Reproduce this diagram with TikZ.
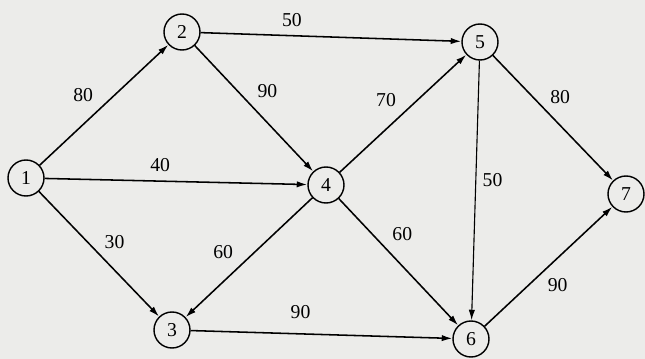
\documentclass[tikz,border=0pt]{standalone}
\usepackage{fontspec}
\setmainfont{Liberation Serif}
\usetikzlibrary{arrows.meta}

\definecolor{paper}{RGB}{236,236,234}

\begin{document}
\begin{tikzpicture}[
    >={Latex[length=7.5pt, width=4.5pt]},
    vertex/.style={circle, draw, line width=1pt, fill=paper,
                   minimum size=0.9cm, inner sep=0pt,
                   font=\fontsize{14}{16}\selectfont},
    arc/.style={->, line width=1.1pt},
    wlabel/.style={inner sep=1pt, font=\fontsize{14}{16}\selectfont}
  ]
  \fill[paper] (0,0) rectangle (16.125,8.975);
  \useasboundingbox (0,0) rectangle (16.125,8.975);

  % vertices
  \node[vertex] (v1) at (0.65, 4.525) {1};
  \node[vertex] (v2) at (4.55, 8.175) {2};
  \node[vertex] (v3) at (4.3, 0.725) {3};
  \node[vertex] (v4) at (8.15, 4.35) {4};
  \node[vertex] (v5) at (12.0, 7.925) {5};
  \node[vertex] (v6) at (11.775, 0.5) {6};
  \node[vertex] (v7) at (15.65, 4.125) {7};

  % weighted arcs
  \draw[arc] (v1) -- node[wlabel, pos=0.47, above left=3.5pt] {80} (v2);
  \draw[arc] (v1) -- node[wlabel, pos=0.44, above=5pt] {40} (v4);
  \draw[arc] (v1) -- node[wlabel, pos=0.5, above right=2.5pt] {30} (v3);
  \draw[arc] (v2) -- node[wlabel, pos=0.35, above=5pt] {50} (v5);
  \draw[arc] (v2) -- node[wlabel, pos=0.47, above right=3.5pt] {90} (v4);
  \draw[arc] (v4) -- node[wlabel, pos=0.57, above left=3.5pt] {60} (v3);
  \draw[arc] (v4) -- node[wlabel, pos=0.5, above left=3.5pt] {70} (v5);
  \draw[arc] (v4) -- node[wlabel, pos=0.39, above right=3.5pt] {60} (v6);
  \draw[arc] (v3) -- node[wlabel, pos=0.42, above=9pt] {90} (v6);
  \draw[arc, line width=0.8pt] (v5) -- node[wlabel, pos=0.46, right=3.5pt] {50} (v6);
  \draw[arc] (v5) -- node[wlabel, pos=0.43, above right=2.5pt] {80} (v7);
  \draw[arc] (v6) -- node[wlabel, pos=0.45, below right=2.5pt] {90} (v7);
\end{tikzpicture}
\end{document}
